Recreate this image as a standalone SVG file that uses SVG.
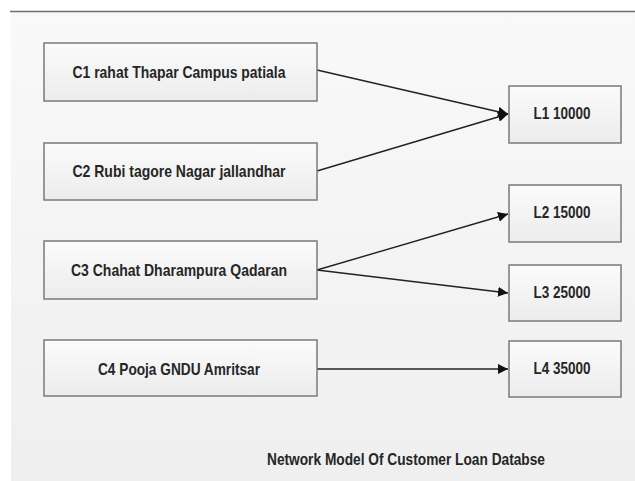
<svg xmlns="http://www.w3.org/2000/svg" width="635" height="481" viewBox="0 0 635 481">
  <defs>
    <linearGradient id="bg" x1="0" y1="0" x2="0" y2="1">
      <stop offset="0" stop-color="#f9f9f9"/>
      <stop offset="1" stop-color="#efefef"/>
    </linearGradient>
    <linearGradient id="boxFill" x1="0" y1="0" x2="0" y2="1">
      <stop offset="0" stop-color="#fbfbfb"/>
      <stop offset="1" stop-color="#ececec"/>
    </linearGradient>
    <marker id="arrow" viewBox="0 0 10 10" refX="10" refY="5" markerWidth="10" markerHeight="10" markerUnits="userSpaceOnUse" orient="auto">
      <path d="M0,0 L10,5 L0,10 z" fill="#111"/>
    </marker>
  </defs>
  <style>
    .box { fill: url(#boxFill); stroke: #7a7a7a; stroke-width: 1.5; }
    .label { font-family: "Liberation Sans", Arial, sans-serif; font-size: 17px; font-weight: bold; fill: #262626; text-anchor: middle; }
    .edge { stroke: #222; stroke-width: 1.4; fill: none; marker-end: url(#arrow); }
  </style>

  <!-- canvas -->
  <rect x="0" y="0" width="635" height="481" fill="#ffffff"/>
  <rect x="11" y="12" width="624" height="469" fill="url(#bg)"/>
  <line x1="10" y1="11.5" x2="635" y2="11.5" stroke="#6e6e6e" stroke-width="1.5"/>

  <!-- connectors -->
  <g id="connectors">
    <line class="edge" x1="317" y1="70" x2="508" y2="114"/>
    <line class="edge" x1="317" y1="171" x2="508" y2="114"/>
    <line class="edge" x1="317" y1="270" x2="508" y2="214"/>
    <line class="edge" x1="317" y1="270" x2="508" y2="293"/>
    <line class="edge" x1="317" y1="369" x2="508" y2="369"/>
  </g>

  <!-- customers -->
  <g id="c1">
    <rect class="box" x="44" y="43" width="273" height="58"/>
    <text class="label" x="179" y="78" textLength="213" lengthAdjust="spacingAndGlyphs">C1 rahat Thapar Campus patiala</text>
  </g>
  <g id="c2">
    <rect class="box" x="44" y="143" width="273" height="57"/>
    <text class="label" x="179" y="177" textLength="213" lengthAdjust="spacingAndGlyphs">C2 Rubi tagore Nagar jallandhar</text>
  </g>
  <g id="c3">
    <rect class="box" x="44" y="241" width="273" height="58"/>
    <text class="label" x="179" y="276" textLength="216" lengthAdjust="spacingAndGlyphs">C3 Chahat Dharampura Qadaran</text>
  </g>
  <g id="c4">
    <rect class="box" x="44" y="340" width="273" height="56"/>
    <text class="label" x="179" y="375" textLength="162" lengthAdjust="spacingAndGlyphs">C4 Pooja GNDU Amritsar</text>
  </g>

  <!-- loans -->
  <g id="l1">
    <rect class="box" x="509" y="86" width="112" height="57"/>
    <text class="label" x="562" y="119" textLength="57" lengthAdjust="spacingAndGlyphs">L1 10000</text>
  </g>
  <g id="l2">
    <rect class="box" x="509" y="185" width="112" height="57"/>
    <text class="label" x="562" y="218" textLength="57" lengthAdjust="spacingAndGlyphs">L2 15000</text>
  </g>
  <g id="l3">
    <rect class="box" x="509" y="265" width="112" height="56"/>
    <text class="label" x="562" y="298" textLength="57" lengthAdjust="spacingAndGlyphs">L3 25000</text>
  </g>
  <g id="l4">
    <rect class="box" x="509" y="341" width="112" height="56"/>
    <text class="label" x="562" y="374" textLength="57" lengthAdjust="spacingAndGlyphs">L4 35000</text>
  </g>

  <!-- caption -->
  <text class="label" x="406" y="465" textLength="278" lengthAdjust="spacingAndGlyphs">Network Model Of Customer Loan Databse</text>
</svg>
